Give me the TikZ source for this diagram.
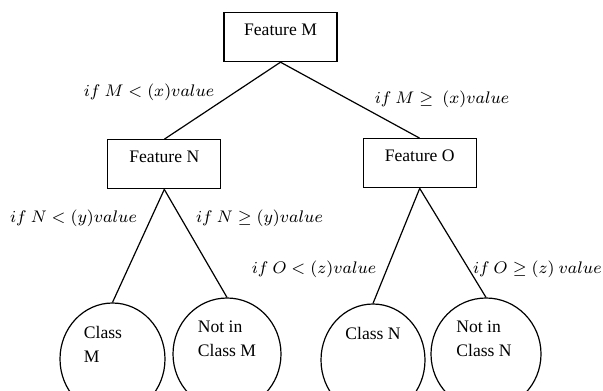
\documentclass[tikz,border=0pt]{standalone}
\usepackage{fix-cm}
\usepackage{fontspec}
\setmainfont{Liberation Serif}
\usetikzlibrary{positioning,shapes.geometric}

\begin{document}
\begin{tikzpicture}[
    x=0.5pt, y=-0.5pt,
    every node/.style={font=\fontsize{8.8}{12}\selectfont},
    feat/.style={rectangle, draw, line width=0.6pt, minimum width=56.5pt, inner sep=0pt, text height=11.5pt, text depth=13pt},
    leaf/.style={ellipse, draw, line width=0.6pt, inner sep=0pt, minimum height=56pt},
    leaftext/.style={align=left, inner sep=0pt},
    cond/.style={anchor=base, inner sep=0pt, font=\fontsize{8.4}{10}\selectfont},
    link/.style={line width=0.6pt}
]
\useasboundingbox (0,0) rectangle (603,390);
% decision tree: two feature tests, then the four classes
\node[feat, anchor=north] (m) at (280.5,12) {Feature M};

\node[feat, below left=38.5pt and 1pt of m] (n) {Feature N};
\node[feat, below right=38pt and 12.5pt of m] (o) {Feature O};

\node[leaf, minimum width=52.5pt] (cm) at (112.5,359) {};
\node[leaf, minimum width=54pt] (ncm) at (227,354) {};
\node[leaf, minimum width=52pt] (cn) at (373,360) {};
\node[leaf, minimum width=55pt] (ncn) at (486,354) {};

\node[leaftext, below=11.5pt of cm.north, xshift=-4.75pt] (cmtext) {Class\\M};
\node[leaftext, below=11.5pt of ncm.north] (ncmtext) {Not in\\Class M};
\node[leaftext, below=11.5pt of cn.north] (cntext) {Class N};
\node[leaftext, below=11.5pt of ncn.north, xshift=-1pt] (ncntext) {Not in\\Class N};

\node[cond] (ifmlt) at (149,97) {$if\ M < (x)value$};
\node[cond] (ifmge) at (442,104) {$if\ M \geq\ (x)value$};
\node[cond] (ifnlt) at (73.5,222) {$if\ N < (y)value$};
\node[cond] (ifnge) at (259.5,222) {$if\ N \geq (y)value$};
\node[cond] (ifolt) at (314,273) {$if\ O < (z)value$};
\node[cond, anchor=base east] (ifoge) at (602,273) {$if\ O \geq (z)\ value$};

\draw[link] (m.south) -- (n.north);
\draw[link] (m.south) -- (o.north);
\draw[link] (n.south) -- (cm.north);
\draw[link] (n.south) -- (ncm.north);
\draw[link] (o.south) -- (cn.north);
\draw[link] (o.south) -- (ncn.north);
\end{tikzpicture}
\end{document}
